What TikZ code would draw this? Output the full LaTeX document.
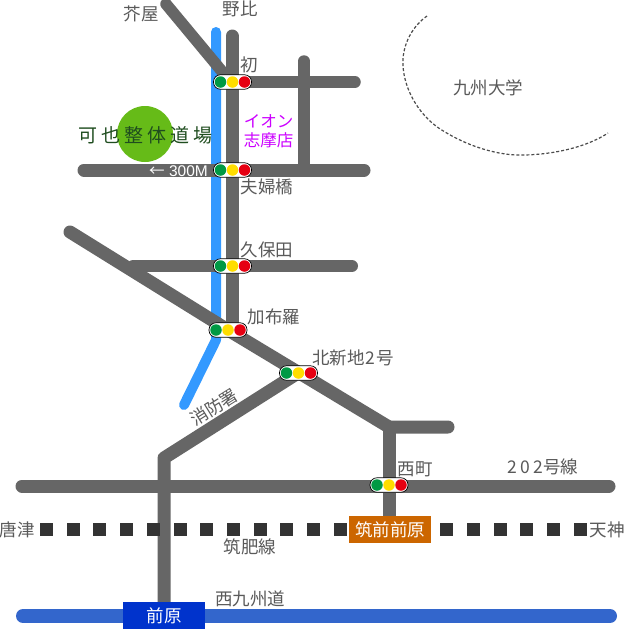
\documentclass[tikz,border=0pt]{standalone}
\usepackage{fontspec}
\setmainfont{Liberation Sans}
\newfontfamily\cjk{Noto Sans CJK JP}
\definecolor{roadc}{HTML}{666666}
\definecolor{riverc}{HTML}{3399FF}
\definecolor{hwyc}{HTML}{3366CC}
\definecolor{labc}{HTML}{5A5A5A}
\definecolor{lgreen}{HTML}{009944}
\definecolor{lyellow}{HTML}{FFDD00}
\definecolor{lred}{HTML}{E60012}
\definecolor{dojoc}{HTML}{66BB18}
\definecolor{dojot}{HTML}{1F4D1F}
\definecolor{aeonc}{HTML}{CC00FF}
\definecolor{stnA}{HTML}{CC6600}
\definecolor{stnB}{HTML}{0033CC}
\definecolor{railc}{HTML}{333333}
\tikzset{
  road/.style={draw=roadc,line width=#1,line cap=round,line join=round},
  road/.default=12pt,
  lab/.style={font=\cjk\fontsize{17.5}{17.5}\selectfont,text=labc,inner sep=0pt,anchor=center},
  stn/.style={font=\cjk\fontsize{17.5}{17.5}\selectfont,text=white,inner sep=0pt,anchor=center,minimum height=27pt},
  sq/.style={fill=railc,draw=none,minimum size=13pt,inner sep=0pt},
  lamp/.style={circle,minimum size=11.5pt,inner sep=0pt,draw=none}
}
\newcommand{\tlight}[3]{%
  \node[draw=black,fill=white,line width=0.7pt,rounded corners=7pt,minimum width=38pt,minimum height=14.5pt,inner sep=0pt] (#3) at (#1,#2) {};
  \node[lamp,fill=lgreen] (#3g) at (#1-12,#2) {};
  \node[lamp,fill=lyellow] (#3y) at (#1,#2) {};
  \node[lamp,fill=lred] (#3r) at (#1+12,#2) {};
}
\begin{document}
\begin{tikzpicture}[x=1pt,y=-1pt]
\useasboundingbox (0,0) rectangle (625,630);
\fill[white] (0,0) rectangle (625,630);
% river
\draw[riverc,line width=10pt,line cap=round,line join=round] (216,32) -- (216,340) -- (184,405);
% roads
\draw[road=11.5pt] (166,4) -- (225,75);
\draw[road=13pt] (232,36) -- (232,330);
\draw[road=11.5pt] (232,82) -- (355,82);
\draw[road=11.5pt] (304,61) -- (304,170);
\draw[road=13pt] (84,170) -- (364,170);
\draw[road=12pt] (133,266) -- (352,266);
\draw[road=13pt] (70,232) -- (228,330) -- (389,427) -- (448,427);
\draw[road=13pt] (298,373) -- (164,458) -- (164,612);
\draw[road=13pt] (389,427) -- (389,522);
\draw[road=13pt] (22,486) -- (609,486);
% highway
\draw[hwyc,line width=14pt,line cap=round] (23,616) -- (610,616);
% rail
\foreach \n/\x in {a/40,b/66.8,c/93.2,d/120,e/146.8,f/173.6,g/200,h/226.8,i/253.6,j/280,k/307,l/333.6,m/440,n/467,o/493.6,p/520,q/547,r/574}
  \node[sq,anchor=west] (rail\n) at (\x,529.5) {};
% dotted arc
\draw[dash pattern=on 3pt off 2pt,line width=1.2pt,black!70] (427,16) .. controls (410,28) and (402,48) .. (403,65) .. controls (404,90) and (420,118) .. (445,132) .. controls (475,150) and (505,156) .. (525,155) .. controls (560,154) and (590,145) .. (608,133);
% dojo
\node[circle,fill=dojoc,minimum size=56pt,inner sep=0pt] (dojo) at (145,134) {};
\node[font=\cjk\fontsize{19}{19}\selectfont,text=dojot,inner sep=0pt] (dojot) at (145.5,135) {可\hspace{4pt}也\hspace{4pt}整\hspace{4pt}体\hspace{4pt}道\hspace{4pt}場};
% shop
\node[font=\cjk\fontsize{16.5}{19}\selectfont,text=aeonc,align=center,inner sep=0pt] (aeon) at (268.5,131) {イオン\\志摩店};
% labels
\node[lab] (l1) at (141,14) {芥屋};
\node[lab] (l2) at (240,9) {野比};
\node[lab] (l3) at (249,65) {初};
\node[lab] (l4) at (267,187) {夫婦橋};
\node[lab] (l5) at (267,250) {久保田};
\node[lab] (l6) at (274,317) {加布羅};
\node[lab] (l7) at (353,358) {北新地\hspace{1pt}2\hspace{1pt}号};
\node[lab,rotate=32] (l8) at (214,407) {消防署};
\node[lab] (l9) at (415,469) {西町};
\node[lab] (l10) at (543,467) {2\hspace{3pt}0\hspace{3pt}2号線};
\node[lab] (l11) at (17,530) {唐津};
\node[lab] (l12) at (607,530) {天神};
\node[lab] (l13) at (250,547) {筑肥線};
\node[lab] (l14) at (250,599) {西九州道};
\node[lab] (l15) at (488,88) {九州大学};
\node[font=\fontsize{15.5}{15.5}\selectfont,text=white,inner sep=0pt] (dist) at (178.5,171) {{\cjk\fontsize{15.5}{15.5}\selectfont ←} 300M};
% stations
\node[stn,fill=stnA,minimum width=82pt] (stA) at (390,529.5) {筑前前原};
\node[stn,fill=stnB,minimum width=82pt] (stB) at (164,615.5) {前原};
% lights
\tlight{232.5}{82}{t1}
\tlight{232.5}{170}{t2}
\tlight{232.5}{266}{t3}
\tlight{228}{330}{t4}
\tlight{298.5}{373}{t5}
\tlight{389}{485}{t6}
\end{tikzpicture}
\end{document}
